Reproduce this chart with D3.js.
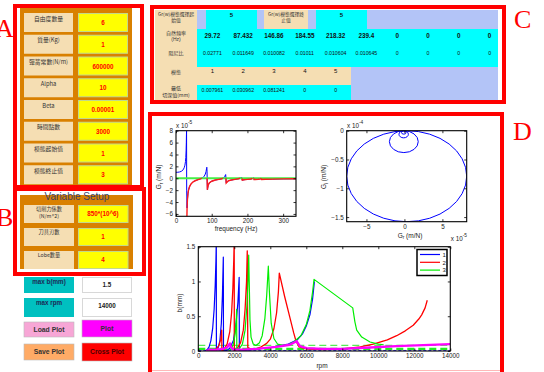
<!DOCTYPE html>
<html>
<head>
<meta charset="utf-8">
<script src="https://cdn.jsdelivr.net/npm/d3@7"></script>
<style>
  html, body { margin: 0; padding: 0; background: #ffffff; }
  svg { display: block; }
</style>
</head>
<body>
<svg id="chart" width="544" height="372"></svg>
<script>
// ---------------- data ----------------
// Panel A: model parameters
const paramLabels = ["自由度數量", "質量(Kg)", "彈簧常數(N/m)", "Alpha", "Beta", "時間點數", "模態起始值", "模態終止值"];
const paramValues = ["6", "1", "600000", "10", "0.00001", "3000", "1", "3"];

// Panel B: variable setup
const setupLabels = [["切削力係數", "(N/m^2)"], ["刀具刃數"], ["Lobe數量"]];
const setupValues = ["850*(10^6)", "1", "4"];

// plot controls
const controlLabels = ["max b(mm)", "max rpm"];
const controlValues = ["1.5", "14000"];
const buttonLabels = [["Load Plot", "Plot"], ["Save Plot", "Cross Plot"]];
const buttonColors = [["#f7a6d6", "#ff00ff"], ["#ffab66", "#ff0000"]];

// Panel C: modal results
const grModeRange = ["5", "5"];
const naturalFreqs = ["29.72", "87.432", "146.86", "184.55", "218.32", "239.4", "0", "0", "0", "0"];
const dampingRatios = ["0.02771", "0.011649", "0.010082", "0.01011", "0.010604", "0.010645", "0", "0", "0", "0"];
const modeNumbers = ["1", "2", "3", "4", "5"];
const minDepths = ["0.007961", "0.030962", "0.081241", "0", "0"];

// Real part of the FRF, [frequency Hz, Gr in 1e-5 m/N]
const grFull = [[0,1.0],[5,1.01],[10,1.06],[15,1.17],[20,1.42],[23,1.78],[25,2.2],[26.5,2.8],[27.5,3.5],[28.3,4.6],[28.9,6.0],[29.3,7.4],[29.6,7.95],[29.9,-2.0],[31,-5.0],[32,-3.6],[33.5,-2.6],[35,-2.0],[38,-1.4],[42,-0.95],[48,-0.6],[55,-0.38],[62,-0.22],[70,-0.05],[75,0.1],[79,0.35],[82,0.7],[84,1.1],[85.5,1.6],[86.3,1.85],[86.9,1.2],[87.4,-0.6],[87.9,-1.95],[88.5,-1.7],[90,-1.2],[93,-0.8],[100,-0.5],[110,-0.3],[120,-0.18],[128,-0.08],[133,0.05],[136,0.25],[138,0.5],[139,0.62],[139.8,0.1],[140.5,-0.8],[142,-0.7],[146,-0.45],[155,-0.3],[165,-0.18],[175,-0.08],[181,0.05],[183.5,0.2],[184.5,0.05],[185.5,-0.32],[190,-0.25],[200,-0.18],[210,-0.12],[215,-0.02],[217.5,0.1],[218.5,-0.22],[222,-0.2],[230,-0.16],[237,-0.1],[239,0.02],[240,-0.2],[250,-0.17],[270,-0.14],[300,-0.11],[336,-0.09]];
// negative-real-part segments (null separates segments)
const grNegative = [[29.7,-8.5],[30.2,-7.5],[31,-5.0],[32,-3.6],[33.5,-2.6],[35,-2.0],[38,-1.4],[42,-0.95],[48,-0.6],[55,-0.38],[62,-0.22],[70,-0.05],[72,0],null,[86.9,0],[87.4,-0.6],[87.9,-1.95],[88.5,-1.7],[90,-1.2],[93,-0.8],[100,-0.5],[110,-0.3],[120,-0.18],[128,-0.08],[131,0],null,[139.8,0],[140.5,-0.8],[142,-0.7],[146,-0.45],[155,-0.3],[165,-0.18],[175,-0.08],[179,0],null,[184.5,0],[185.5,-0.32],[190,-0.25],[200,-0.18],[210,-0.12],[214,0],null,[218,0],[218.5,-0.22],[222,-0.2],[230,-0.16],[237,-0.1],[238.5,0],null,[239.5,0],[240,-0.2],[250,-0.17],[270,-0.14],[300,-0.11],[336,-0.09]];
const grZero = [[0,0],[336,0]];

// Nyquist loops: centre on real axis (1e-5 m/N) and radius (1e-5 m/N)
const nyqLoopCenter = [0.3, -0.08, -0.1, -0.08];
const nyqLoopRadius = [7.9, 1.9, 0.62, 0.3];

// Stability lobes, [rpm, b mm]
const lobe1 = [[380,0.0],[500,0.02],[600,0.06],[700,0.15],[800,0.33],[880,0.6],[940,0.95],[980,1.3],[1000,1.6],[1005,0.0],[1100,0.04],[1200,0.15],[1280,0.4],[1340,0.8],[1390,1.35],[1400,0.0],[1600,0.01],[1750,0.04],[1950,0.15],[2100,0.4],[2200,0.7],[2270,1.06],[2280,0.0],[3000,0.02],[4000,0.05],[5000,0.1],[5500,0.16],[5800,0.25],[6000,0.36],[6200,0.52],[6350,0.75],[6450,1.0]];
const lobe2 = [[850,0.0],[1000,0.03],[1150,0.08],[1250,0.17],[1300,0.3],[1310,0.0],[1450,0.03],[1600,0.1],[1750,0.28],[1850,0.55],[1920,0.9],[1970,1.3],[1995,1.6],[2000,0.0],[2150,0.03],[2350,0.12],[2500,0.3],[2600,0.6],[2680,1.0],[2720,1.44],[2750,0.05],[2900,0.03],[3200,0.03],[3500,0.06],[3800,0.11],[4000,0.17],[4200,0.32],[4350,0.55],[4450,0.85],[4500,1.12],[4800,0.78],[5100,0.47],[5300,0.26],[5430,0.14],[5600,0.06],[6000,0.03],[7000,0.02],[8000,0.03],[9000,0.06],[9720,0.10],[10500,0.16],[11020,0.22],[11500,0.29],[11940,0.37],[12250,0.46],[12410,0.52],[12600,0.62],[12720,0.73]];
const lobe3 = [[1700,0.0],[1850,0.04],[1950,0.1],[2050,0.25],[2110,0.45],[2130,0.6],[2140,0.02],[2300,0.04],[2450,0.1],[2600,0.3],[2700,0.65],[2760,1.0],[2800,1.38],[2830,1.0],[2870,0.45],[2930,0.2],[3050,0.1],[3200,0.08],[3400,0.12],[3550,0.22],[3700,0.47],[3800,0.8],[3890,1.22],[3950,0.85],[4050,0.4],[4200,0.18],[4400,0.1],[4700,0.08],[5000,0.09],[5300,0.13],[5700,0.22],[6000,0.38],[6200,0.58],[6350,0.85],[6430,1.03],[8580,0.62],[8700,0.42],[8800,0.3],[9080,0.2],[9540,0.13],[10000,0.10],[10300,0.09]];
const lobeCross = [[430,0.0],[650,0.02],[930,0.015],[1370,0.03],[1600,0.05],[1700,0.09],[1760,0.11],[1800,0.06],[1950,0.02],[2500,0.02],[3240,0.03],[4350,0.06],[5090,0.09],[5460,0.14],[5650,0.07],[6020,0.04],[6930,0.03],[8000,0.03],[9540,0.05],[11020,0.07],[14000,0.1]];
const lobeNames = ["1", "2", "3"];
const lobeColors = ["#0000ff", "#ff0000", "#00ee00"];

// ---------------- drawing ----------------
const svg = d3.select("#chart");
const SANS = "'Liberation Sans', Arial, Helvetica, sans-serif";
const CJK = "'Noto Sans CJK TC', 'Noto Sans CJK SC', sans-serif";
const SERIF = "'Liberation Serif', 'Times New Roman', serif";

function box(g, x, y, w, h, fill, stroke, sw) {
  return g.append("rect").attr("x", x).attr("y", y).attr("width", w).attr("height", h)
    .attr("fill", fill).attr("stroke", stroke || "none").attr("stroke-width", sw || 0);
}
function label(g, x, y, str, size, opts = {}) {
  return g.append("text").attr("x", x).attr("y", y).text(str)
    .attr("font-family", opts.family || SANS).attr("font-size", size)
    .attr("font-weight", opts.weight || "normal")
    .attr("fill", opts.fill || "#222").attr("text-anchor", opts.anchor || "middle");
}

// ----- Panel A -----
const gA = svg.append("g");
box(gA, 20, 7, 112, 182, "#d98000");
paramLabels.forEach((lab, i) => {
  const top = 13 + i * 21.75;
  box(gA, 24, top, 49, 19, "#f5deb3");
  box(gA, 78.5, top + 0.5, 49, 18, "#ffff00", "#c3d98a", 1);
  label(gA, 48.5, top + 7.5, lab, 5.8, { family: CJK, fill: "#333" });
  label(gA, 103, top + 12, paramValues[i], 6.3, { weight: "bold", fill: "#ff0000" });
});

// ----- Panel B -----
const gB = svg.append("g");
box(gB, 20, 195, 113, 74, "#d98000");
label(gB, 77, 199.5, "Variable Setup", 10, { fill: "#3a4266" });
const setupTops = [205, 228, 251];
setupLabels.forEach((lines, i) => {
  const top = setupTops[i];
  box(gB, 24, top, 50, 18, "#f5deb3");
  box(gB, 78.5, top + 0.5, 49.5, 17, "#ffff00", "#c3d98a", 1);
  lines.forEach((ln, j) => label(gB, 49, top + 6 + j * 7, ln, 5.2, { family: CJK, fill: "#333" }));
  label(gB, 103, top + (i === 0 ? 10.5 : 11), setupValues[i], 6.3, { weight: "bold", fill: "#ff0000" });
});

// ----- controls -----
const gK = svg.append("g");
const ctrlTops = [277, 298];
const ctrlHeights = [16, 19];
controlLabels.forEach((lab, i) => {
  const top = ctrlTops[i];
  box(gK, 24, top, 50, ctrlHeights[i], "#00c0c0");
  label(gK, 49, top + 6.5, lab, 6.3, { weight: "bold", fill: "#1c2a55" });
  box(gK, 82.5, top + 0.5, 49, ctrlHeights[i] - 1, "#ffffff", "#d8d8d8", 1);
  label(gK, 107, top + 10, controlValues[i], 6.3, { weight: "bold", fill: "#222" });
});
const btnTops = [[322, 320], [344, 343]];
const btnHeights = [[15, 17], [16, 18]];
buttonLabels.forEach((row, r) => {
  row.forEach((lab, c) => {
    const x = c === 0 ? 24 : 82;
    const top = btnTops[r][c];
    box(gK, x, top, 50, btnHeights[r][c], buttonColors[r][c], "#bbbbbb", 0.6);
    label(gK, x + 25, top + btnHeights[r][c] / 2 + 2.4, lab, 6.8, { weight: "bold", fill: c === 1 && r === 1 ? "#4a0000" : "#333" });
  });
});

// ----- Panel C -----
const gC = svg.append("g");
box(gC, 155, 10, 343, 91, "#b3c4f7");
const colW = 30.8, col0 = 197;
const colX = i => col0 + i * colW;
// row 1: Gr(w) mode range
box(gC, 155, 10, 42, 19, "#f5deb3");
box(gC, 206, 10, 51, 19, "#00ffff");
box(gC, 264, 10, 44, 19, "#f5deb3");
box(gC, 316, 10, 51, 19, "#00ffff");
label(gC, 176, 15.5, "Gr(w)模態選擇起", 4.8, { family: CJK, fill: "#333" });
label(gC, 176, 21.5, "始值", 4.8, { family: CJK, fill: "#333" });
label(gC, 286, 15.5, "Gr(w)模態選擇終", 4.8, { family: CJK, fill: "#333" });
label(gC, 286, 21.5, "止值", 4.8, { family: CJK, fill: "#333" });
label(gC, 231.5, 17, grModeRange[0], 6, { weight: "bold", fill: "#111" });
label(gC, 341.5, 17, grModeRange[1], 6, { weight: "bold", fill: "#111" });
// row 2 & 3: natural frequencies, damping ratios
box(gC, 155, 29, 42, 38, "#f5deb3");
box(gC, 197, 29, 301, 38, "#00ffff");
label(gC, 176, 34.5, "自然頻率", 5, { family: CJK, fill: "#333" });
label(gC, 176, 41, "(Hz)", 5, { fill: "#333" });
label(gC, 176, 54.5, "阻尼比", 5, { family: CJK, fill: "#333" });
naturalFreqs.forEach((v, i) => label(gC, colX(i) + colW / 2, 37.5, v, 6.3, { weight: "bold", fill: "#111" }));
dampingRatios.forEach((v, i) => label(gC, colX(i) + colW / 2, 54.5, v, 5.2, { fill: "#111" }));
// row 4: mode numbers
box(gC, 155, 67, 42 + 5 * colW, 18, "#f5deb3");
label(gC, 176, 73.5, "模態", 5, { family: CJK, fill: "#333" });
modeNumbers.forEach((v, i) => label(gC, colX(i) + colW / 2, 73, v, 6, { fill: "#111" }));
// row 5: minimum depth of cut
box(gC, 155, 85, 42, 17, "#f5deb3");
box(gC, 197, 85, 5 * colW, 17, "#00ffff");
label(gC, 176, 90, "最低", 5, { family: CJK, fill: "#333" });
label(gC, 176, 96.5, "切深值(mm)", 5, { family: CJK, fill: "#333" });
minDepths.forEach((v, i) => label(gC, colX(i) + colW / 2, 91.5, v, 5.2, { fill: "#111" }));
box(gC, 498, 8, 5, 95, "#ffffff");

// ----- axes helper (boxed, inward ticks) -----
let clipId = 0;
function framedAxes(x, y, xTicks, yTicks, xFmt, yFmt, tickLen) {
  const g = svg.append("g");
  const [x0, x1] = x.range(), [y0, y1] = y.range(); // y0 bottom, y1 top
  const id = "clip" + (clipId++);
  svg.append("clipPath").attr("id", id).append("rect")
    .attr("x", x0).attr("y", y1).attr("width", x1 - x0).attr("height", y0 - y1);
  const plot = g.append("g").attr("clip-path", `url(#${id})`);
  const tl = tickLen || 2.5;
  const axB = g.append("g").attr("transform", `translate(0,${y0})`)
    .call(d3.axisBottom(x).tickValues(xTicks).tickSize(-tl).tickPadding(2.5).tickFormat(xFmt));
  const axT = g.append("g").attr("transform", `translate(0,${y1})`)
    .call(d3.axisTop(x).tickValues(xTicks).tickSize(-tl).tickFormat(""));
  const axL = g.append("g").attr("transform", `translate(${x0},0)`)
    .call(d3.axisLeft(y).tickValues(yTicks).tickSize(-tl).tickPadding(3).tickFormat(yFmt));
  const axR = g.append("g").attr("transform", `translate(${x1},0)`)
    .call(d3.axisRight(y).tickValues(yTicks).tickSize(-tl).tickFormat(""));
  [axB, axT, axL, axR].forEach(a => {
    a.select(".domain").remove();
    a.selectAll("line").attr("stroke", "#000").attr("stroke-width", 0.8);
    a.selectAll("text").attr("font-family", SANS).attr("font-size", 6.3).attr("fill", "#222");
  });
  g.append("rect").attr("x", x0).attr("y", y1).attr("width", x1 - x0).attr("height", y0 - y1)
    .attr("fill", "none").attr("stroke", "#000").attr("stroke-width", 1.1);
  return { g, plot };
}
function expLabel(g, x, y, exp, anchor) {
  const t = g.append("text").attr("x", x).attr("y", y).attr("font-family", SANS)
    .attr("font-size", 6.3).attr("fill", "#222").attr("text-anchor", anchor || "start");
  t.append("tspan").text("x 10");
  t.append("tspan").attr("dy", -3.5).attr("font-size", 4.8).text(exp);
}
function subLabel(g, x, y, main, sub, rest, rotate) {
  const t = g.append("text").attr("font-family", SANS).attr("font-size", 6.5).attr("fill", "#222")
    .attr("text-anchor", "middle")
    .attr("transform", rotate ? `translate(${x},${y}) rotate(-90)` : `translate(${x},${y})`);
  t.append("tspan").text(main);
  t.append("tspan").attr("dy", 1.8).attr("font-size", 4.8).text(sub);
  t.append("tspan").attr("dy", -1.8).text(rest);
}

// ----- top-left: real part vs frequency -----
{
  const x = d3.scaleLinear().domain([0, 336]).range([176, 296]);
  const y = d3.scaleLinear().domain([-6.4, 8]).range([216.3, 130.7]);
  const { g, plot } = framedAxes(x, y, [0, 100, 200, 300], [-6, -4, -2, 0, 2, 4, 6, 8], d3.format("d"), d3.format("d"));
  const line = d3.line().defined(d => d !== null).x(d => x(d[0])).y(d => y(d[1]));
  plot.append("path").attr("d", line(grFull)).attr("fill", "none").attr("stroke", "#0000ff").attr("stroke-width", 1);
  plot.append("path").attr("d", line(grZero)).attr("fill", "none").attr("stroke", "#44ee44").attr("stroke-width", 2.2);
  plot.append("path").attr("d", line(grNegative)).attr("fill", "none").attr("stroke", "#ff1a1a").attr("stroke-width", 1.4);
  expLabel(g, 176, 127.5, "-5");
  label(g, 236, 231, "frequency (Hz)", 6.5);
  subLabel(g, 161, 177, "G", "r", " (m/N)", true);
}

// ----- top-right: Nyquist plot -----
{
  const x = d3.scaleLinear().domain([-7.6, 8.2]).range([346.7, 466.7]);
  const y = d3.scaleLinear().domain([-1.58, 0]).range([221.7, 130.7]);
  const { g, plot } = framedAxes(x, y, [-5, 0, 5], [-1.5, -1, -0.5, 0], d3.format("d"), d3.format("~g"));
  nyqLoopRadius.forEach((r, i) => {
    const cx = nyqLoopCenter[i];
    plot.append("ellipse")
      .attr("cx", x(cx)).attr("cy", y(-r / 10))
      .attr("rx", x(cx + r) - x(cx)).attr("ry", y(-r / 10) - y(0))
      .attr("fill", "none").attr("stroke", "#0000ff").attr("stroke-width", 1);
  });
  expLabel(g, 347, 127.5, "-4");
  expLabel(g, 467, 240.5, "-5", "end");
  subLabel(g, 410, 237.5, "G", "r", " (m/N)", false);
  subLabel(g, 326, 177, "G", "i", " (m/N)", true);
}

// ----- bottom: stability lobes -----
{
  const x = d3.scaleLinear().domain([0, 14000]).range([198.3, 450.3]);
  const y = d3.scaleLinear().domain([0, 1.5]).range([351, 246.7]);
  const { g, plot } = framedAxes(x, y, d3.range(0, 14001, 2000), [0, 0.5, 1, 1.5], d3.format("d"), d3.format("~g"));
  const line = d3.line().x(d => x(d[0])).y(d => y(d[1]));
  // minimum depth-of-cut levels
  const dashStyle = [["#3333ff", 1.0, "3,2"], ["#22ee22", 2.2, "7,4"], ["#55ee55", 1.2, "7,4"]];
  [0, 1, 2].forEach(i => {
    const v = +minDepths[i];
    plot.append("path").attr("d", line([[0, v], [14000, v]])).attr("fill", "none")
      .attr("stroke", dashStyle[i][0]).attr("stroke-width", dashStyle[i][1]).attr("stroke-dasharray", dashStyle[i][2]);
  });
  [lobe1, lobe2, lobe3].forEach((d, i) => {
    plot.append("path").attr("d", line(d)).attr("fill", "none")
      .attr("stroke", lobeColors[i]).attr("stroke-width", i === 1 ? 1.3 : 1.2).attr("stroke-linejoin", "round");
  });
  plot.append("path").attr("d", line(lobeCross)).attr("fill", "none")
    .attr("stroke", "#ff00ff").attr("stroke-width", 2.3).attr("stroke-linejoin", "round");
  label(g, 322, 368, "rpm", 6.5);
  g.append("text").attr("transform", "translate(182,303) rotate(-90)").attr("text-anchor", "middle")
    .attr("font-family", SANS).attr("font-size", 6.5).attr("fill", "#222").text("b(mm)");
  // legend
  const lg = g.append("g");
  box(lg, 417, 249.5, 30, 26, "#ffffff", "#000", 1.5);
  lobeNames.forEach((n, i) => {
    const ly = 254.5 + i * 7.8;
    lg.append("line").attr("x1", 420).attr("x2", 440).attr("y1", ly).attr("y2", ly)
      .attr("stroke", lobeColors[i]).attr("stroke-width", 1.2);
    label(lg, 442.5, ly + 2.2, n, 6, { anchor: "start" });
  });
}

// ----- section frames and letters -----
function frame(x0, y0, x1, y1, w, color) {
  svg.append("rect").attr("x", x0 + w / 2).attr("y", y0 + w / 2)
    .attr("width", x1 - x0 - w).attr("height", y1 - y0 - w)
    .attr("fill", "none").attr("stroke", color).attr("stroke-width", w);
}
frame(13, 4, 144, 189, 4, "#ff0000");
frame(13, 187, 146, 276, 4, "#ff0000");
frame(150, 5, 506, 104, 4, "#ff0000");
// D frame: left, top, right in full red; bottom edge faint
svg.append("path").attr("d", "M150,372 L150,114 L502,114 L502,372")
  .attr("fill", "none").attr("stroke", "#ff0000").attr("stroke-width", 4);
svg.append("line").attr("x1", 152).attr("x2", 500).attr("y1", 370.5).attr("y2", 370.5)
  .attr("stroke", "#ffb8b8").attr("stroke-width", 1.2);

[["A", -5, 37], ["B", -4, 226], ["C", 514, 28], ["D", 513, 140]].forEach(([t, x, y]) => {
  svg.append("text").attr("x", x).attr("y", y).text(t)
    .attr("font-family", SERIF).attr("font-size", 26).attr("fill", "#ff0000");
});
</script>
</body>
</html>
